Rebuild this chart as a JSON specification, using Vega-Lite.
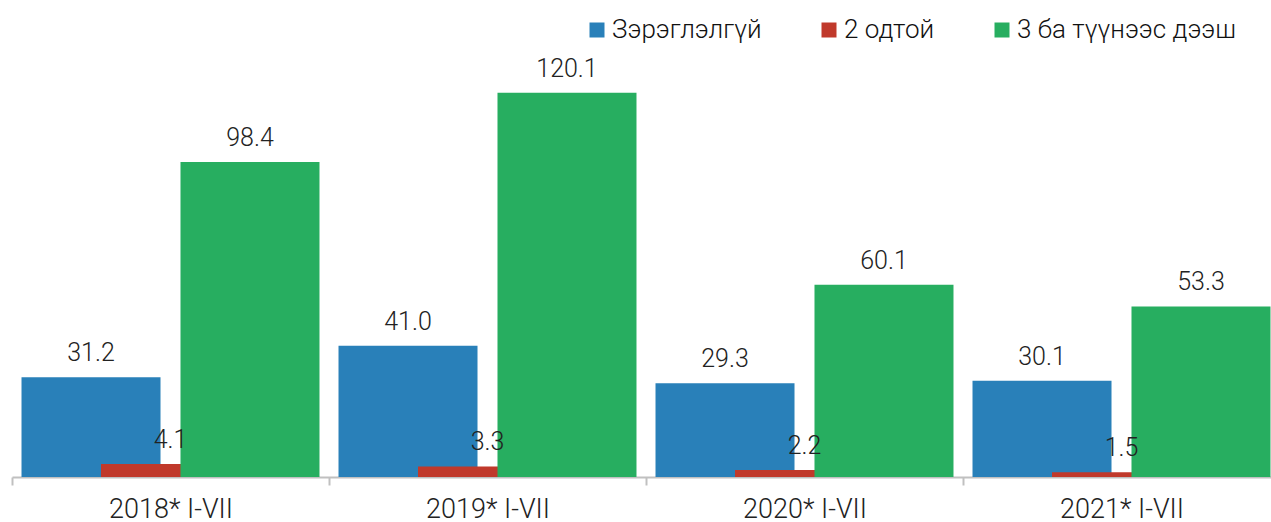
{
  "$schema": "https://vega.github.io/schema/vega-lite/v6.json",
  "width": 1268,
  "height": 448,
  "autosize": {"type": "none"},
  "padding": {"left": 12, "top": 29, "right": 0, "bottom": 45},
  "background": "white",
  "config": {
    "view": {"stroke": null},
    "font": "Roboto",
    "text": {"font": "Roboto"}
  },
  "data": {
    "values": [
      {"year": "2018* I-VII", "series": "Зэрэглэлгүй", "value": 31.2},
      {"year": "2018* I-VII", "series": "2 одтой", "value": 4.1},
      {"year": "2018* I-VII", "series": "3 ба түүнээс дээш", "value": 98.4},
      {"year": "2019* I-VII", "series": "Зэрэглэлгүй", "value": 41.0},
      {"year": "2019* I-VII", "series": "2 одтой", "value": 3.3},
      {"year": "2019* I-VII", "series": "3 ба түүнээс дээш", "value": 120.1},
      {"year": "2020* I-VII", "series": "Зэрэглэлгүй", "value": 29.3},
      {"year": "2020* I-VII", "series": "2 одтой", "value": 2.2},
      {"year": "2020* I-VII", "series": "3 ба түүнээс дээш", "value": 60.1},
      {"year": "2021* I-VII", "series": "Зэрэглэлгүй", "value": 30.1},
      {"year": "2021* I-VII", "series": "2 одтой", "value": 1.5},
      {"year": "2021* I-VII", "series": "3 ба түүнээс дээш", "value": 53.3}
    ]
  },
  "encoding": {
    "x": {
      "field": "year",
      "type": "nominal",
      "sort": null,
      "scale": {"paddingInner": 0, "paddingOuter": 0},
      "axis": {
        "title": null,
        "labelAngle": 0,
        "labelFont": "Roboto",
        "labelFontWeight": 300,
        "labelFontSize": 27,
        "labelColor": "#222222",
        "labelPadding": 11,
        "domainColor": "#c0c0c0",
        "domainWidth": 2,
        "tickColor": "#c0c0c0",
        "tickWidth": 2,
        "tickSize": 8,
        "tickBand": "extent",
        "grid": false
      }
    },
    "xOffset": {
      "field": "series",
      "type": "nominal",
      "sort": null,
      "scale": {"paddingInner": 0, "paddingOuter": 0.494}
    },
    "y": {
      "field": "value",
      "type": "quantitative",
      "scale": {"domain": [0, 140], "nice": false},
      "axis": null
    }
  },
  "layer": [
    {
      "mark": {"type": "bar", "width": 139},
      "encoding": {
        "color": {
          "field": "series",
          "type": "nominal",
          "sort": null,
          "scale": {
            "domain": ["Зэрэглэлгүй", "2 одтой", "3 ба түүнээс дээш"],
            "range": ["#2980b9", "#c0392b", "#27ae60"]
          },
          "legend": {
            "title": null,
            "orient": "none",
            "direction": "horizontal",
            "legendX": 572,
            "legendY": -12,
            "symbolType": "square",
            "symbolSize": 225,
            "symbolStrokeWidth": 0,
            "labelFont": "Roboto",
            "labelFontWeight": 300,
            "labelFontSize": 26,
            "labelColor": "#111111",
            "labelOffset": 2,
            "labelLimit": 400,
            "columnPadding": 54,
            "padding": 0
          }
        }
      }
    },
    {
      "mark": {
        "type": "text",
        "baseline": "alphabetic",
        "dy": -16,
        "font": "Roboto",
        "fontWeight": 300,
        "fontSize": 25,
        "color": "#222222"
      },
      "encoding": {
        "text": {"field": "value", "type": "quantitative", "format": ".1f"}
      }
    }
  ]
}
